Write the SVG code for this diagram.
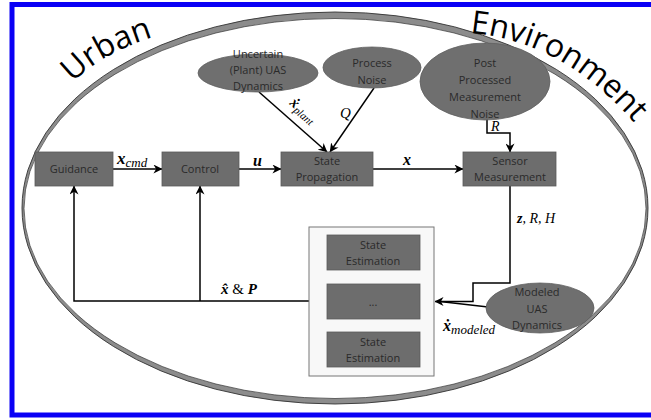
<svg xmlns="http://www.w3.org/2000/svg" width="651" height="420" viewBox="0 0 651 420">
<defs>
<marker id="ah" viewBox="0 0 10 10" refX="9.5" refY="5" markerWidth="9" markerHeight="9" orient="auto" markerUnits="userSpaceOnUse">
<path d="M0,0 L10,5 L0,10 L3,5 z" fill="#000"/>
</marker>
<path id="urbanPath" d="M73,83 Q106,48 175,31"/>
<path id="envPath" d="M470,33 C532,39 592,66 655,148"/>
</defs>
<style>
.box{fill:#6d6d6d;stroke:#5a5a5a;stroke-width:0.8}
.ell{fill:#6f6f6f;stroke:#606060;stroke-width:0.8}
.lbl{font-family:"Open Sans","Liberation Sans",sans-serif;font-size:11px;fill:#2a2a2a;text-anchor:middle}
.math{font-family:"Liberation Serif",serif;font-style:italic;fill:#000}
.b{font-weight:bold}
.big{font-family:"Open Sans","Liberation Sans",sans-serif;font-size:32px;fill:#000}
.ln{fill:none;stroke:#000;stroke-width:1.5}
</style>
<rect x="0" y="0" width="651" height="420" fill="#fff"/>
<rect x="12" y="4.5" width="680" height="410.5" fill="none" stroke="#0a00f5" stroke-width="5"/>

<g id="environment">
<ellipse cx="335" cy="208" rx="313" ry="196" fill="#8c8c8c" stroke="#333" stroke-width="0.9"/>
<ellipse cx="335" cy="208.5" rx="311" ry="190" fill="#fff" stroke="#333" stroke-width="0.7"/>
<text class="big"><textPath href="#urbanPath">Urban</textPath></text>
<text class="big"><textPath href="#envPath">Environment</textPath></text>
</g>

<g id="connectors">
<line class="ln" x1="113" y1="169" x2="162" y2="169" marker-end="url(#ah)"/>
<line class="ln" x1="239" y1="169" x2="281" y2="169" marker-end="url(#ah)"/>
<line class="ln" x1="373" y1="169" x2="463" y2="169" marker-end="url(#ah)"/>
<line class="ln" x1="259" y1="92" x2="327" y2="152" marker-end="url(#ah)"/>
<line class="ln" x1="374" y1="88" x2="330" y2="152" marker-end="url(#ah)"/>
<path class="ln" d="M487,119 V133 H510 V152" marker-end="url(#ah)"/>
<path class="ln" d="M510,186 V283 H473 V301.5 H435" marker-end="url(#ah)"/>
<line class="ln" x1="488" y1="307" x2="440" y2="301.5"/>
<path class="ln" d="M309,301 H74 V186" marker-end="url(#ah)"/>
<path class="ln" d="M200,301 V186" marker-end="url(#ah)"/>
<text class="math" x="117" y="164"><tspan class="b" font-size="17">x</tspan><tspan font-size="13" dy="3">cmd</tspan></text>
<text class="math b" x="253" y="166" font-size="16">u</text>
<text class="math b" x="403" y="165" font-size="16">x</text>
<text class="math" transform="translate(289,104) rotate(41)"><tspan class="b" font-size="15">x&#775;</tspan><tspan font-size="11" dy="3">plant</tspan></text>
<text class="math" x="340" y="118" font-size="15">Q</text>
<text class="math" x="491" y="131" font-size="14">R</text>
<text class="math" x="517" y="223" font-size="14"><tspan class="b">z</tspan>, R, H</text>
<text class="math" x="221" y="294" font-size="15"><tspan class="b">x&#770;</tspan><tspan font-style="normal"> &amp; </tspan><tspan class="b">P</tspan></text>
<text class="math" x="443" y="331"><tspan class="b" font-size="16">x&#775;</tspan><tspan font-size="13" dy="3">modeled</tspan></text>
</g>

<g id="guidance">
<rect class="box" x="35" y="152" width="78" height="34"/>
<text class="lbl" x="74" y="173">Guidance</text>
</g>
<g id="control">
<rect class="box" x="162" y="152" width="77" height="34"/>
<text class="lbl" x="200" y="173">Control</text>
</g>
<g id="state-propagation">
<rect class="box" x="281" y="152" width="92" height="34"/>
<text class="lbl" x="327" y="165">State</text>
<text class="lbl" x="327" y="181">Propagation</text>
</g>
<g id="sensor-measurement">
<rect class="box" x="463" y="152" width="93" height="34"/>
<text class="lbl" x="510" y="165">Sensor</text>
<text class="lbl" x="510" y="181">Measurement</text>
</g>
<g id="uncertain-dynamics">
<ellipse class="ell" cx="258" cy="73" rx="60" ry="19"/>
<text class="lbl" x="258" y="58">Uncertain</text>
<text class="lbl" x="258" y="74">(Plant) UAS</text>
<text class="lbl" x="258" y="90">Dynamics</text>
</g>
<g id="process-noise">
<ellipse class="ell" cx="372" cy="67.5" rx="49" ry="20.5"/>
<text class="lbl" x="372" y="67">Process</text>
<text class="lbl" x="372" y="84">Noise</text>
</g>
<g id="measurement-noise">
<ellipse class="ell" cx="485" cy="81.5" rx="65" ry="38.5"/>
<text class="lbl" x="485" y="67">Post</text>
<text class="lbl" x="485" y="84">Processed</text>
<text class="lbl" x="485" y="101">Measurement</text>
<text class="lbl" x="485" y="118">Noise</text>
</g>
<g id="modeled-dynamics">
<ellipse class="ell" cx="540" cy="308" rx="54" ry="25"/>
<text class="lbl" x="537" y="296">Modeled</text>
<text class="lbl" x="537" y="313">UAS</text>
<text class="lbl" x="537" y="329">Dynamics</text>
</g>
<g id="estimator">
<rect x="309" y="227" width="125" height="149" fill="#f8f8f8" stroke="#777" stroke-width="1"/>
<g id="state-estimation-1">
<rect class="box" x="327" y="235" width="93" height="35"/>
<text class="lbl" x="373" y="249">State</text>
<text class="lbl" x="373" y="265">Estimation</text>
</g>
<g id="state-estimation-dots">
<rect class="box" x="327" y="284" width="93" height="35"/>
<text class="lbl" x="373" y="306">...</text>
</g>
<g id="state-estimation-2">
<rect class="box" x="327" y="332" width="93" height="35"/>
<text class="lbl" x="373" y="346">State</text>
<text class="lbl" x="373" y="362">Estimation</text>
</g>
</g>
</svg>
